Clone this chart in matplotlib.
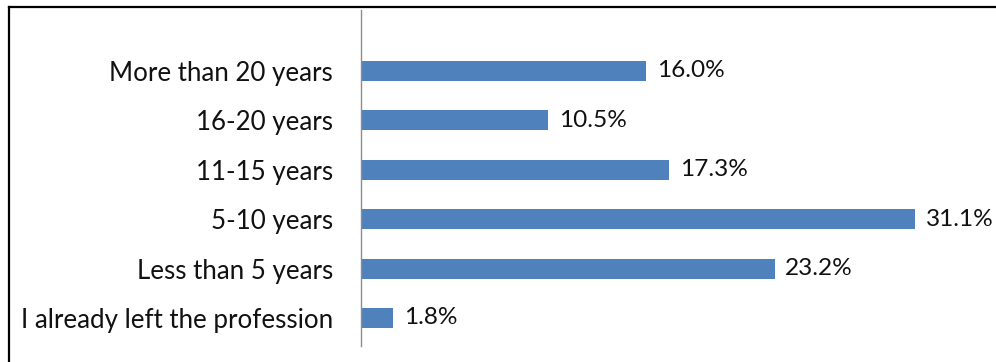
import matplotlib
matplotlib.use("Agg")
import matplotlib.pyplot as plt
from matplotlib.lines import Line2D

categories = [
    "I already left the profession",
    "Less than 5 years",
    "5-10 years",
    "11-15 years",
    "16-20 years",
    "More than 20 years",
]
values = [1.8, 23.2, 31.1, 17.3, 10.5, 16.0]

plt.rcParams["font.family"] = ["Lato", "DejaVu Sans"]

W, H = 996, 362
fig = plt.figure(figsize=(W / 100, H / 100), dpi=100)
fig.patch.set_facecolor("white")

# plot area in pixels: left 361, top 10, right 985, bottom 346
ax = fig.add_axes([361 / W, (H - 346) / H, 624 / W, 336 / H])

ypos = list(range(len(categories)))
ax.barh(ypos, values, height=0.405, color="#4F81BD", edgecolor="none")
for y, v in zip(ypos, values):
    ax.text(v + 0.6, y, f"{v:.1f}%", va="center", ha="left",
            fontsize=17.6, color="#111111")

ax.set_xlim(0, 35)
ax.set_ylim(-0.567, 6.23)
ax.set_yticks(ypos)
ax.set_yticklabels(categories, fontsize=18.6, color="#111111")
ax.tick_params(axis="y", length=0, pad=20)
ax.set_xticks([])
for s in ["top", "right", "bottom"]:
    ax.spines[s].set_visible(False)
ax.spines["left"].set_color("#8c8c8c")
ax.spines["left"].set_linewidth(1)

# outer frame (only top and left edges visible in the crop)
fig.add_artist(Line2D([9 / W, 1], [1 - 7 / H, 1 - 7 / H], transform=fig.transFigure,
                      color="black", lw=1.6))
fig.add_artist(Line2D([9 / W, 9 / W], [0, 1 - 7 / H], transform=fig.transFigure,
                      color="black", lw=1.6))

fig.savefig("out.png", dpi=100)
